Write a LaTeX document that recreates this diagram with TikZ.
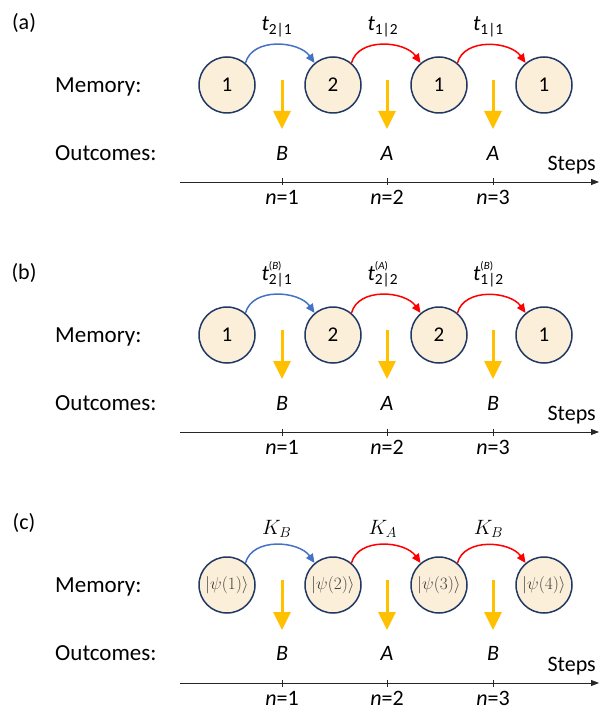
\documentclass[tikz,border=0pt]{standalone}
\usepackage{fontspec}
\setmainfont{Carlito}
\usetikzlibrary{arrows.meta}

\definecolor{memfill}{RGB}{252,239,217}
\definecolor{memline}{RGB}{31,56,100}
\definecolor{stepblue}{RGB}{68,114,196}
\definecolor{stepred}{RGB}{255,0,0}
\definecolor{outyellow}{RGB}{255,192,0}

\tikzset{
  mem/.style={circle,draw=memline,fill=memfill,line width=1.5pt,minimum size=56pt,inner sep=0pt,font=\fontsize{21}{25}\selectfont},
  ket/.style={font=\fontsize{19}{22}\selectfont,text=black!75},
  lbl/.style={font=\fontsize{22}{26}\selectfont,inner sep=1pt,text=black},
  rowlbl/.style={anchor=west,font=\fontsize{23}{28}\selectfont,inner sep=0pt},
  jump/.style={line width=1.5pt,-{Triangle[width=8pt,length=9pt]},out=75,in=125},
  outarrow/.style={outyellow,line width=3pt,-{Triangle[width=17pt,length=18pt]}},
  axisline/.style={line width=0.8pt,black!85,-{Triangle[width=6pt,length=8pt]}},
  tick/.style={line width=0.8pt,black!85},
}

% t with optional outcome on top
\newcommand{\steplab}[2][]{\textit{t}\ifx&#1&\else\rlap{\raisebox{11pt}{\fontsize{11}{11}\selectfont(\textit{#1})}}\fi\textsubscript{#2}}

\begin{document}
\begin{tikzpicture}[x=1pt,y=1pt]
  \useasboundingbox (0,0) rectangle (608,-711);

  %panel (a)
  	\node[lbl] (la) at (24,-23) {(a)};
  	\node[rowlbl] (mema) at (55,-87) {Memory:};
  	\node[rowlbl] (outa) at (55,-153) {Outcomes:};
  %memory states
  	\node[mem] (a1) at (227,-85) {1};
  	\node[mem] (a2) at (333,-85) {2};
  	\node[mem] (a3) at (439,-85) {1};
  	\node[mem] (a4) at (544,-85) {1};
  %overgange
  	\draw[jump,stepblue] (a1.50) to node[lbl,above=6pt] {\steplab{2|1}} (a2.130);
  	\draw[jump,stepred] (a2.50) to node[lbl,above=6pt] {\steplab{1|2}} (a3.130);
  	\draw[jump,stepred] (a3.50) to node[lbl,above=6pt] {\steplab{1|1}} (a4.130);
  %udfald
  	\coordinate (aup1) at (282,-80); \coordinate (alow1) at (282,-129);
  	\coordinate (aup2) at (387,-80); \coordinate (alow2) at (387,-129);
  	\coordinate (aup3) at (493,-80); \coordinate (alow3) at (493,-129);
  	\draw[outarrow] (aup1) -- (alow1);
  	\draw[outarrow] (aup2) -- (alow2);
  	\draw[outarrow] (aup3) -- (alow3);
  	\node[lbl] (ao1) at (282,-153) {\textit{B}};
  	\node[lbl] (ao2) at (387,-153) {\textit{A}};
  	\node[lbl] (ao3) at (493,-153) {\textit{A}};
  %akse
  	\coordinate (ax0) at (180,-182); \coordinate (ax1) at (599,-182);
  	\draw[axisline] (ax0) -- (ax1);
  	\node[lbl,anchor=east] (asteps) at (597,-165) {Steps};
  	\draw[tick] (282,-178.5) -- (282,-185.5) node[lbl,below=3pt] (an1) {\textit{n}=1};
  	\draw[tick] (387,-178.5) -- (387,-185.5) node[lbl,below=3pt] (an2) {\textit{n}=2};
  	\draw[tick] (493,-178.5) -- (493,-185.5) node[lbl,below=3pt] (an3) {\textit{n}=3};

  %panel (b)
  \begin{scope}[yshift=-250pt]
  	\node[lbl] (lb) at (24,-23) {(b)};
  	\node[rowlbl] (memb) at (55,-87) {Memory:};
  	\node[rowlbl] (outb) at (55,-153) {Outcomes:};
  	\node[mem] (b1) at (227,-85) {1};
  	\node[mem] (b2) at (333,-85) {2};
  	\node[mem] (b3) at (439,-85) {2};
  	\node[mem] (b4) at (544,-85) {1};
  	\draw[jump,stepblue] (b1.50) to node[lbl,above=6pt] {\steplab[B]{2|1}} (b2.130);
  	\draw[jump,stepred] (b2.50) to node[lbl,above=6pt] {\steplab[A]{2|2}} (b3.130);
  	\draw[jump,stepred] (b3.50) to node[lbl,above=6pt] {\steplab[B]{1|2}} (b4.130);
  	\coordinate (bup1) at (282,-80); \coordinate (blow1) at (282,-129);
  	\coordinate (bup2) at (387,-80); \coordinate (blow2) at (387,-129);
  	\coordinate (bup3) at (493,-80); \coordinate (blow3) at (493,-129);
  	\draw[outarrow] (bup1) -- (blow1);
  	\draw[outarrow] (bup2) -- (blow2);
  	\draw[outarrow] (bup3) -- (blow3);
  	\node[lbl] (bo1) at (282,-153) {\textit{B}};
  	\node[lbl] (bo2) at (387,-153) {\textit{A}};
  	\node[lbl] (bo3) at (493,-153) {\textit{B}};
  	\coordinate (bx0) at (180,-182); \coordinate (bx1) at (599,-182);
  	\draw[axisline] (bx0) -- (bx1);
  	\node[lbl,anchor=east] (bsteps) at (597,-165) {Steps};
  	\draw[tick] (282,-178.5) -- (282,-185.5) node[lbl,below=3pt] (bn1) {\textit{n}=1};
  	\draw[tick] (387,-178.5) -- (387,-185.5) node[lbl,below=3pt] (bn2) {\textit{n}=2};
  	\draw[tick] (493,-178.5) -- (493,-185.5) node[lbl,below=3pt] (bn3) {\textit{n}=3};
  \end{scope}

  %panel (c)
  \begin{scope}[yshift=-500pt]
  	\node[lbl] (lc) at (24,-23) {(c)};
  	\node[rowlbl] (memc) at (55,-87) {Memory:};
  	\node[rowlbl] (outc) at (55,-153) {Outcomes:};
  	\node[mem,ket] (c1) at (227,-85) {$|\psi(1)\rangle$};
  	\node[mem,ket] (c2) at (333,-85) {$|\psi(2)\rangle$};
  	\node[mem,ket] (c3) at (439,-85) {$|\psi(3)\rangle$};
  	\node[mem,ket] (c4) at (544,-85) {$|\psi(4)\rangle$};
  	\draw[jump,stepblue] (c1.50) to node[lbl,above=6pt] {$K_B$} (c2.130);
  	\draw[jump,stepred] (c2.50) to node[lbl,above=6pt] {$K_A$} (c3.130);
  	\draw[jump,stepred] (c3.50) to node[lbl,above=6pt] {$K_B$} (c4.130);
  	\coordinate (cup1) at (282,-80); \coordinate (clow1) at (282,-130);
  	\coordinate (cup2) at (387,-80); \coordinate (clow2) at (387,-130);
  	\coordinate (cup3) at (493,-80); \coordinate (clow3) at (493,-130);
  	\draw[outarrow] (cup1) -- (clow1);
  	\draw[outarrow] (cup2) -- (clow2);
  	\draw[outarrow] (cup3) -- (clow3);
  	\node[lbl] (co1) at (282,-153) {\textit{B}};
  	\node[lbl] (co2) at (387,-153) {\textit{A}};
  	\node[lbl] (co3) at (493,-153) {\textit{B}};
  	\coordinate (cx0) at (180,-183); \coordinate (cx1) at (599,-183);
  	\draw[axisline] (cx0) -- (cx1);
  	\node[lbl,anchor=east] (csteps) at (597,-166) {Steps};
  	\draw[tick] (282,-179.5) -- (282,-186.5) node[lbl,below=3pt] (cn1) {\textit{n}=1};
  	\draw[tick] (387,-179.5) -- (387,-186.5) node[lbl,below=3pt] (cn2) {\textit{n}=2};
  	\draw[tick] (493,-179.5) -- (493,-186.5) node[lbl,below=3pt] (cn3) {\textit{n}=3};
  \end{scope}
\end{tikzpicture}
\end{document}
